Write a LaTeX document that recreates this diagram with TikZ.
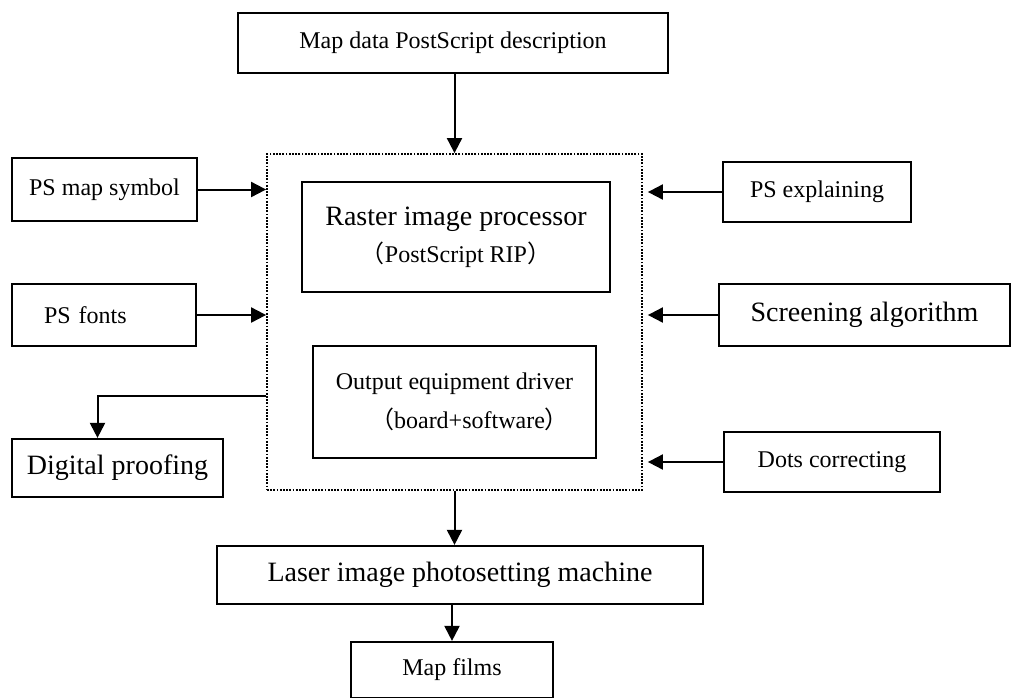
\documentclass[tikz,border=0pt]{standalone}
\usepackage{fontspec}
\setmainfont{Liberation Serif}
\newfontfamily\cjk{Noto Sans CJK SC}
\usetikzlibrary{arrows.meta, positioning, calc}
\newcommand{\bigfont}{\fontsize{28}{33}\selectfont}

\begin{document}
\begin{tikzpicture}[
  x=1pt, y=-1pt,
  >={Triangle[length=15pt, width=15pt]},
  box/.style={draw, line width=2.2pt, inner sep=0pt, align=center,
    font=\fontsize{24}{29}\selectfont},
  dotbox/.style={draw, line width=1.8pt, dash pattern=on 1.8pt off 1.4pt,
    inner sep=0pt},
  arr/.style={->, line width=2pt},
]

\useasboundingbox (0,0) rectangle (1012,697);

% ---- Input ----
\node[box, minimum width=430pt, minimum height=60pt] (mapdata) at (453,43)
  {Map data PostScript description};

% ---- RIP frame ----
\node[dotbox, minimum width=375pt, minimum height=336pt] (core) at (454.5,322) {};

\node[box, minimum width=308pt, minimum height=110pt] (rip) at (456,237)
  {{\bigfont Raster image processor}\\[8pt]
   {\cjk （}PostScript RIP{\cjk ）}};

\node[box, minimum width=283pt, minimum height=112pt] (driver) at (454.5,402)
  {Output equipment driver\\[10pt]
   \hspace*{30pt}{\cjk （}board+software{\cjk ）}};

% ---- Left side ----
\node[box, minimum width=185pt, minimum height=63pt] (psmap) at (104.5,189.5)
  {PS map symbol};
\node[box, minimum width=184pt, minimum height=62pt, align=left, text width=120pt]
  (psfonts) at (104,315) {PS fonts};
\node[box, minimum width=211pt, minimum height=58pt, font=\bigfont] (proof)
  at (117.5,468) {Digital proofing};

% ---- Right side ----
\node[box, minimum width=188pt, minimum height=60pt] (psexp) at (817,192)
  {PS explaining};
\node[box, minimum width=291pt, minimum height=62pt, font=\bigfont] (screen)
  at (864.5,315) {Screening algorithm};
\node[box, minimum width=216pt, minimum height=60pt] (dots) at (832,462)
  {Dots correcting};

% ---- Output ----
\node[box, minimum width=486pt, minimum height=58pt, font=\bigfont] (laser)
  at (460,575) {Laser image photosetting machine};
\node[box, minimum width=202pt, minimum height=56pt] (films) at (452,670)
  {Map films};

% ---- Arrows ----
\draw[arr] (core.north |- mapdata.south) -- (core.north);
\draw[arr] (psmap.east) -- (psmap.east -| core.west);
\draw[arr] (psfonts.east) -- (psfonts.east -| core.west);
\draw[arr] ([yshift=-74pt]core.west) -| ([xshift=-20pt]proof.north);
\draw[arr, shorten >=5pt] (psexp.west) -- (psexp.west -| core.east);
\draw[arr, shorten >=5pt] (screen.west) -- (screen.west -| core.east);
\draw[arr, shorten >=5pt] (dots.west) -- (dots.west -| core.east);
\draw[arr] (core.south) -- (core.south |- laser.north);
\draw[arr] (films.north |- laser.south) -- (films.north);

\end{tikzpicture}
\end{document}
